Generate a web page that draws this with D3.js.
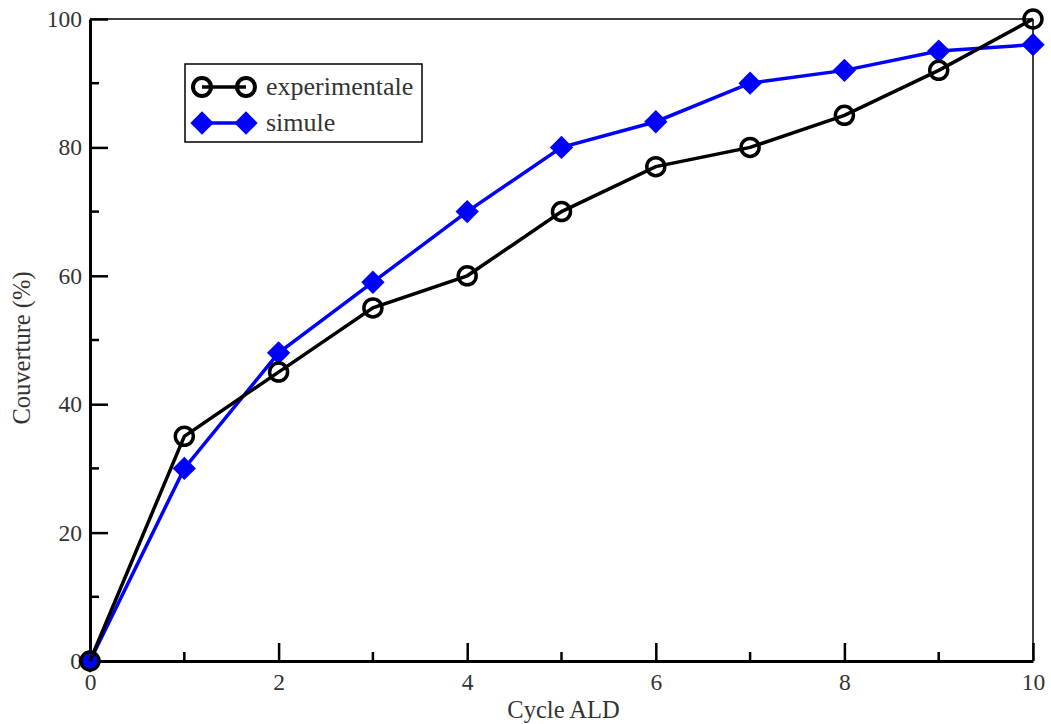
<!DOCTYPE html>
<html>
<head>
<meta charset="utf-8">
<script src="https://cdn.jsdelivr.net/npm/d3@7"></script>
<style>
  body { margin: 0; background: #fff; }
  text { font-family: "Liberation Serif", "DejaVu Serif", serif; fill: #333; }
</style>
</head>
<body>
<svg width="1051" height="724"></svg>
<script>
// data
var cycles = [0, 1, 2, 3, 4, 5, 6, 7, 8, 9, 10];
var experimentale = [0, 35, 45, 55, 60, 70, 77, 80, 85, 92, 100];
var simule = [0, 30, 48, 59, 70, 80, 84, 90, 92, 95, 96];
var xTicks = [0, 2, 4, 6, 8, 10];
var yTicks = [0, 20, 40, 60, 80, 100];

var svg = d3.select("svg");
// plot frame (note: "top" is reserved on window, so use other names)
var plotL = 90, plotR = 1033, plotT = 19, plotB = 661;

var x = d3.scaleLinear().domain([0, 10]).range([plotL, plotR]);
var y = d3.scaleLinear().domain([0, 100]).range([plotB, plotT]);

// frame: thin top/right
svg.append("line").attr("x1", plotL).attr("x2", plotR).attr("y1", plotT).attr("y2", plotT)
    .attr("stroke", "#000").attr("stroke-width", 1.5);
svg.append("line").attr("x1", plotR).attr("x2", plotR).attr("y1", plotT).attr("y2", plotB)
    .attr("stroke", "#000").attr("stroke-width", 1.5);

// minor ticks
svg.append("g").selectAll("line")
    .data(d3.range(1, 10, 2))
    .enter().append("line")
    .attr("x1", d => x(d)).attr("x2", d => x(d))
    .attr("y1", plotB).attr("y2", plotB - 9)
    .attr("stroke", "#000").attr("stroke-width", 2.5);
svg.append("g").selectAll("line")
    .data(d3.range(10, 100, 20))
    .enter().append("line")
    .attr("y1", d => y(d)).attr("y2", d => y(d))
    .attr("x1", plotL).attr("x2", plotL + 9)
    .attr("stroke", "#000").attr("stroke-width", 2.5);

// axes with inward ticks
var xAxis = svg.append("g")
    .attr("transform", "translate(0," + plotB + ")")
    .call(d3.axisBottom(x).tickValues(xTicks).tickSizeInner(-18).tickSizeOuter(0).tickPadding(21));
var yAxis = svg.append("g")
    .attr("transform", "translate(" + plotL + ",0)")
    .call(d3.axisLeft(y).tickValues(yTicks).tickSizeInner(-18).tickSizeOuter(0).tickPadding(8));

[xAxis, yAxis].forEach(function (a) {
    a.select(".domain").attr("stroke", "#000").attr("stroke-width", 3);
    a.selectAll(".tick line").attr("stroke", "#000").attr("stroke-width", 2.5);
    a.selectAll(".tick text")
        .attr("font-family", "Liberation Serif, serif")
        .attr("font-size", 23.5)
        .attr("fill", "#333");
});
xAxis.selectAll(".tick text").attr("dy", "0.32em");

// axis titles
svg.append("text")
    .attr("x", (plotL + plotR) / 2 + 2)
    .attr("y", 718)
    .attr("text-anchor", "middle")
    .attr("font-size", 24.5)
    .text("Cycle ALD");
svg.append("text")
    .attr("transform", "translate(30," + ((plotT + plotB) / 2 + 8) + ") rotate(-90)")
    .attr("text-anchor", "middle")
    .attr("font-size", 24.5)
    .text("Couverture (%)");

var line = d3.line()
    .x(function (d, i) { return x(cycles[i]); })
    .y(function (d) { return y(d); });

var diamond = d3.symbol().type(d3.symbolSquare).size(16.5 * 16.5);

// simule (blue diamonds)
svg.append("path")
    .datum(simule)
    .attr("d", line)
    .attr("fill", "none")
    .attr("stroke", "#0000ff")
    .attr("stroke-width", 3.5);
svg.append("g").selectAll("path")
    .data(simule)
    .enter().append("path")
    .attr("d", diamond)
    .attr("transform", function (d, i) {
        return "translate(" + x(cycles[i]) + "," + y(d) + ") rotate(45)";
    })
    .attr("fill", "#0000ff");

// experimentale (open black circles)
svg.append("path")
    .datum(experimentale)
    .attr("d", line)
    .attr("fill", "none")
    .attr("stroke", "#000")
    .attr("stroke-width", 3.5);
svg.append("g").selectAll("circle")
    .data(experimentale)
    .enter().append("circle")
    .attr("cx", function (d, i) { return x(cycles[i]); })
    .attr("cy", function (d) { return y(d); })
    .attr("r", 9)
    .attr("fill", "none")
    .attr("stroke", "#000")
    .attr("stroke-width", 3.5);

// legend
var legend = svg.append("g");
legend.append("rect")
    .attr("x", 185).attr("y", 64)
    .attr("width", 237).attr("height", 78)
    .attr("fill", "#fff")
    .attr("stroke", "#000")
    .attr("stroke-width", 1.5);

var series = [
    { name: "experimentale", color: "#000", kind: "circle", y: 87 },
    { name: "simule", color: "#0000ff", kind: "diamond", y: 123 }
];
series.forEach(function (s) {
    legend.append("line")
        .attr("x1", 202).attr("x2", 246)
        .attr("y1", s.y).attr("y2", s.y)
        .attr("stroke", s.color).attr("stroke-width", 3.5);
    [202, 246].forEach(function (cx) {
        if (s.kind === "circle") {
            legend.append("circle")
                .attr("cx", cx).attr("cy", s.y).attr("r", 9)
                .attr("fill", "none").attr("stroke", s.color).attr("stroke-width", 4);
        } else {
            legend.append("path")
                .attr("d", diamond)
                .attr("transform", "translate(" + cx + "," + s.y + ") rotate(45)")
                .attr("fill", s.color);
        }
    });
    legend.append("text")
        .attr("x", 266).attr("y", s.y)
        .attr("dy", "0.32em")
        .attr("font-size", 26)
        .text(s.name);
});
</script>
</body>
</html>
